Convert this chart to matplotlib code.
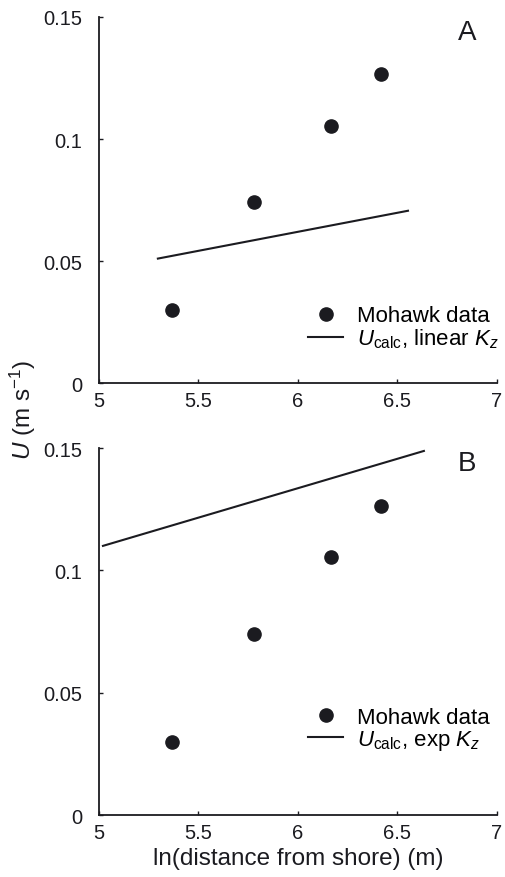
import matplotlib
matplotlib.use("Agg")
import matplotlib.pyplot as plt
from matplotlib.lines import Line2D

plt.rcParams['font.family'] = ['Liberation Sans', 'DejaVu Sans']
plt.rcParams['mathtext.fontset'] = 'custom'
plt.rcParams['mathtext.rm'] = 'Liberation Sans'
plt.rcParams['mathtext.it'] = 'Liberation Sans:italic'

# --- data ---
ln_dist = [5.367, 5.78, 6.166, 6.417]
u_data = [0.030, 0.074, 0.1055, 0.1265]

# model lines (endpoints)
lin_x = [5.296, 6.553]
lin_u = [0.051, 0.0706]
exp_x = [5.02, 6.633]
exp_u = [0.110, 0.1488]

panels = ['A', 'B']
line_labels = [r'$U_{\rm calc}$, linear $K_z$', r'$U_{\rm calc}$, exp $K_z$']
xticks = [5, 5.5, 6, 6.5, 7]
xticklabels = ['5', '5.5', '6', '6.5', '7']
yticks = [0, 0.05, 0.1, 0.15]
yticklabels = ['0', '0.05', '0.1', '0.15']

col = '#1b1b20'

fig = plt.figure(figsize=(5.05, 8.78), dpi=100)
ax1 = fig.add_axes([0.196, 0.5626, 0.788, 0.4169])
ax2 = fig.add_axes([0.196, 0.0706, 0.788, 0.4180])

lines = [(lin_x, lin_u), (exp_x, exp_u)]
leg_y = [0.151, 0.234]

for ax, (lx, lu), letter, lab, ly in zip([ax1, ax2], lines, panels, line_labels, leg_y):
    ax.plot(lx, lu, color=col, lw=1.5)
    ax.plot(ln_dist, u_data, 'o', color=col, ms=9.5)
    ax.set_xlim(5, 7)
    ax.set_ylim(0, 0.15)
    ax.set_xticks(xticks)
    ax.set_xticklabels(xticklabels)
    ax.set_yticks(yticks)
    ax.set_yticklabels(yticklabels)
    for s in ['top', 'right']:
        ax.spines[s].set_visible(False)
    for s in ['left', 'bottom']:
        ax.spines[s].set_linewidth(1.3)
        ax.spines[s].set_color(col)
    ax.tick_params(direction='in', length=3, width=1, labelsize=14.5, colors=col)
    ax.tick_params(axis='x', pad=6)
    ax.tick_params(axis='y', pad=12)
    ax.text(0.925, 0.96, letter, transform=ax.transAxes, fontsize=20,
            ha='center', va='center', color=col)
    handles = [Line2D([], [], ls='none', marker='o', color=col, ms=9.5),
               Line2D([], [], color=col, lw=1.5)]
    ax.legend(handles, ['Mohawk data', lab], loc='center left',
              bbox_to_anchor=(0.525, ly), frameon=False, fontsize=16,
              handlelength=1.6, handletextpad=0.6, borderpad=0,
              borderaxespad=0, labelspacing=0.0)

ax2.set_xlabel('ln(distance from shore) (m)', fontsize=17.5, color=col, labelpad=3)
fig.text(0.045, 0.533, r'$U$ (m s$^{-1}$)', rotation=90, fontsize=17.5,
         ha='center', va='center', color=col)

fig.savefig('out.png', dpi=100)
